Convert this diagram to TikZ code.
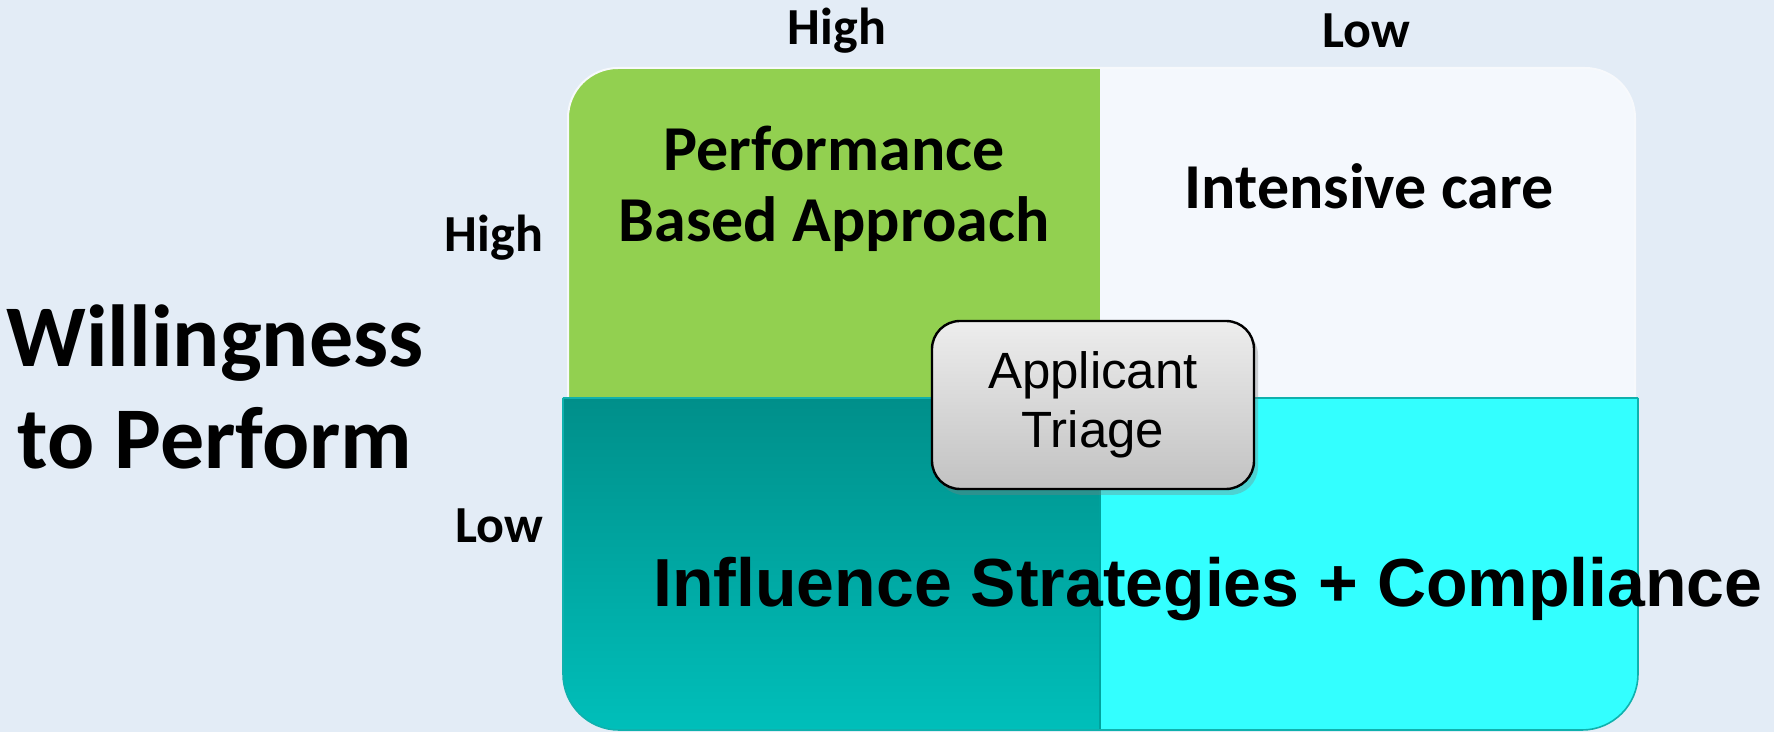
\documentclass[tikz,border=0pt]{standalone}
\usepackage{fontspec}
\setmainfont{Carlito}
\newfontfamily\arialfont{Liberation Sans}
\usepackage{xcolor}
\usepackage{tikz}
\usetikzlibrary{positioning}
\usetikzlibrary{shadows}
\definecolor{bgblue}{HTML}{E3ECF6}
\definecolor{perfgreen}{HTML}{92D050}
\definecolor{carewhite}{HTML}{F4F8FD}
\definecolor{tealtop}{HTML}{008F8A}
\definecolor{tealbot}{HTML}{00BFBA}
\definecolor{compcyan}{HTML}{33FFFF}
\tikzstyle{axislabel} = [font=\bfseries\fontsize{26pt}{30pt}\selectfont, inner sep=0pt]
\tikzstyle{quadtext} = [font=\bfseries\fontsize{32pt}{35.5pt}\selectfont, align=center, inner sep=0pt]
\tikzstyle{triagebox} = [draw=black, line width=1.2pt, rounded corners=14pt, top color=gray!14, bottom color=gray!48,
  minimum width=161pt, minimum height=84pt, align=center, drop shadow={opacity=0.35, shadow xshift=2pt, shadow yshift=-3pt},
  font=\arialfont\fontsize{25.5pt}{29.5pt}\selectfont]

\begin{document}
\begin{tikzpicture}[x=0.5pt,y=-0.5pt]
\useasboundingbox (0,0) rectangle (1774,732);
\fill[bgblue] (0,0) rectangle (1774,732);
% upper row
\begin{scope}
\clip[rounded corners=25pt] (568,68) rectangle (1635,500);
\fill[perfgreen] (568,68) rectangle (1100,398);
\fill[carewhite] (1100,68) rectangle (1635,398);
\end{scope}
\draw[white!70!bgblue, line width=1pt, rounded corners=25pt] (568,398) -- (568,68) -- (1635,68) -- (1635,398);
% lower row
\begin{scope}
\clip[rounded corners=28pt] (563,300) rectangle (1638,730);
\fill[top color=tealtop, bottom color=tealbot] (563,398) rectangle (1100,730);
\fill[compcyan] (1100,398) rectangle (1638,730);
\draw[tealtop!60!tealbot, line width=0.8pt] (1100,398) -- (1100,730);
\end{scope}
\draw[tealtop!70!compcyan, line width=0.8pt, rounded corners=28pt] (563,398) -- (563,730) -- (1638,730) -- (1638,398);
\draw[tealtop!70!compcyan, line width=0.8pt] (563,398) -- (1638,398);

% axis labels
\node[axislabel] (topHigh) at (837,31) {High};
\node[axislabel] (topLow) at (1366,31) {Low};
\node[axislabel] (leftHigh) at (494,238) {High};
\node[axislabel] (leftLow) at (499,526) {Low};
\node[font=\bfseries\fontsize{44pt}{51pt}\selectfont, align=center, inner sep=0pt] (willing) at (215,387) {Willingness\\to Perform};

% quadrant texts
\node[quadtext] (perf) at (834,189) {Performance\\Based Approach};
\node[quadtext] (care) at (1369,186) {Intensive care};
\node[font=\arialfont\bfseries\fontsize{34pt}{36pt}\selectfont, inner sep=0pt] (influence) at (1208,589) {Influence Strategies + Compliance};

% centre
\node[triagebox] (triage) at (1093,405) {Applicant\\Triage};
\end{tikzpicture}
\end{document}
